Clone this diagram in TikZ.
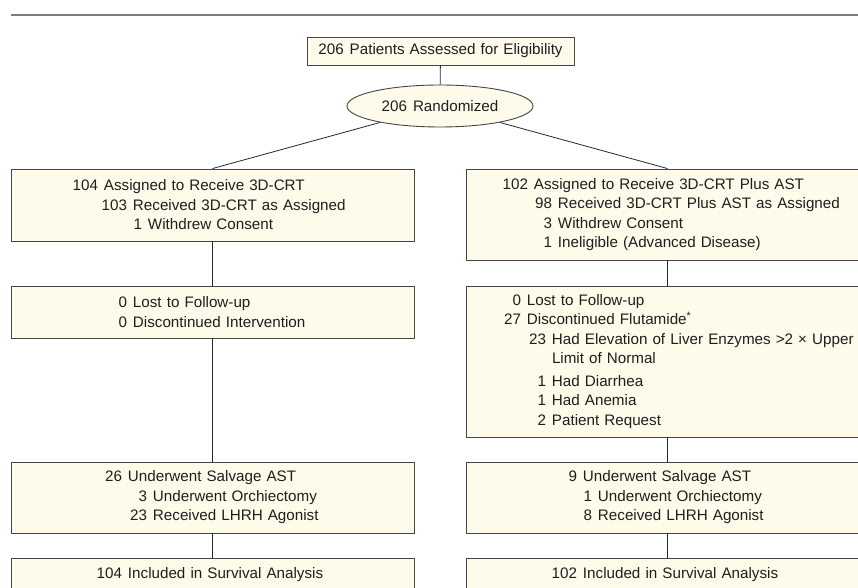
\documentclass[tikz,border=0pt]{standalone}
\usepackage{fontspec}
\setmainfont{Liberation Sans}
\usepackage{xcolor}
\usepackage{tikz}
\usetikzlibrary{shapes.geometric}

% number right-aligned, text starting #1pt from the left edge of the box
\newcommand{\rowitem}[3]{\hspace*{\dimexpr #1pt-3em-6pt\relax}\makebox[3em][r]{#2}\hspace{6pt}#3}

\tikzset{
  flowbox/.style={rectangle,draw=boxColor,fill=fillColor,line width=0.9pt,
    inner sep=0pt,minimum width=403pt,text width=403pt,align=left,
    text=textColor,font=\fontsize{15.2}{19.5}\selectfont},
  flowlink/.style={draw=linkColor,line width=0.8pt}
}

\begin{document}
\begin{tikzpicture}[x=1pt,y=1pt]
\definecolor{fillColor}{RGB}{255,251,234}
\definecolor{boxColor}{RGB}{70,70,70}
\definecolor{linkColor}{RGB}{40,40,40}
\definecolor{textColor}{RGB}{30,30,30}
\definecolor{ruleColor}{RGB}{125,125,125}
\path[use as bounding box,fill=white] (0,0) rectangle (858,587);
\begin{scope}
\path[clip] (0,0) rectangle (858,587);

\path[draw=ruleColor,line width=1.4pt] ( 11,572) -- (858,572);

% screening and randomization
\node[flowbox,minimum width=267pt,text width=267pt,align=center,minimum height=28pt] (elig) at (440.5,536) {206\hspace{6pt}Patients Assessed for Eligibility};
\node[ellipse,draw=boxColor,fill=fillColor,line width=0.9pt,inner sep=0pt,
  minimum width=186pt,minimum height=42pt,text=textColor,
  font=\fontsize{15.2}{19.5}\selectfont] (rand) at (440,481) {206\hspace{6pt}Randomized};

% 3D-CRT arm
\node[flowbox,minimum height=72pt] (armA) at (212.5,382) {%
\rowitem{93}{104}{Assigned to Receive 3D-CRT}\\
\rowitem{122}{103}{Received 3D-CRT as Assigned}\\
\rowitem{137}{1}{Withdrew Consent}};
\node[flowbox,minimum height=52pt] (fuA) at (212.5,275) {%
\rowitem{122}{0}{Lost to Follow-up}\\
\rowitem{122}{0}{Discontinued Intervention}};
\node[flowbox,minimum height=71pt] (salvA) at (212.5,89.5) {%
\rowitem{117}{26}{Underwent Salvage AST}\\
\rowitem{142}{3}{Underwent Orchiectomy}\\
\rowitem{142}{23}{Received LHRH Agonist}};
\node[flowbox,minimum height=33pt] (survA) at (212.5,12.5) {%
\rowitem{117}{104}{Included in Survival Analysis}};

% 3D-CRT plus AST arm
\node[flowbox,minimum height=91pt] (armB) at (667.5,372.5) {%
\rowitem{68}{102}{Assigned to Receive 3D-CRT Plus AST}\\
\rowitem{92}{98}{Received 3D-CRT Plus AST as Assigned}\\
\rowitem{92}{3}{Withdrew Consent}\\
\rowitem{92}{1}{Ineligible (Advanced Disease)}};
\node[flowbox,minimum height=151pt] (fuB) at (667.5,225.5) {%
\rowitem{61}{0}{Lost to Follow-up}\\
\rowitem{61}{27}{Discontinued Flutamide\textsuperscript{*}}\\
\rowitem{86}{23}{Had Elevation of Liver Enzymes >2 × Upper}\\
\hspace*{86pt}Limit of Normal\\[3pt]
\rowitem{86}{1}{Had Diarrhea}\\
\rowitem{86}{1}{Had Anemia}\\
\rowitem{86}{2}{Patient Request}};
\node[flowbox,minimum height=71pt] (salvB) at (667.5,89.5) {%
\rowitem{117}{9}{Underwent Salvage AST}\\
\rowitem{132}{1}{Underwent Orchiectomy}\\
\rowitem{132}{8}{Received LHRH Agonist}};
\node[flowbox,minimum height=33pt] (survB) at (667.5,12.5) {%
\rowitem{117}{102}{Included in Survival Analysis}};

\path[flowlink] (elig) -- (rand);
\path[flowlink] (rand) -- (armA.north);
\path[flowlink] (rand) -- (armB.north);
\path[flowlink] (armA) -- (fuA);
\path[flowlink] (fuA) -- (salvA);
\path[flowlink] (salvA) -- (survA);
\path[flowlink] (armB) -- (fuB);
\path[flowlink] (fuB) -- (salvB);
\path[flowlink] (salvB) -- (survB);
\end{scope}
\end{tikzpicture}
\end{document}
